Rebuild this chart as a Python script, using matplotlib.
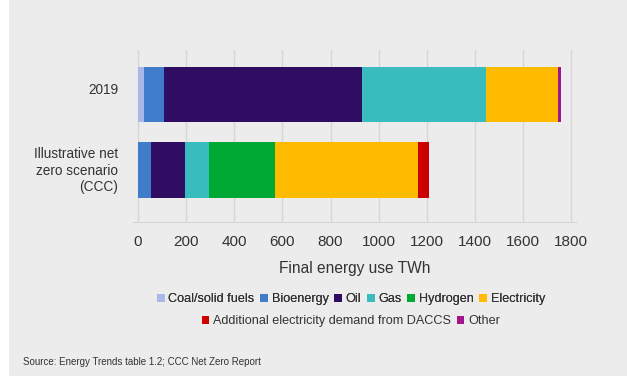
import numpy as np
import matplotlib
matplotlib.use('Agg')
import matplotlib.pyplot as plt
import matplotlib.transforms as mtransforms
from matplotlib.patches import Patch, Rectangle

plt.rcParams['font.family'] = ['Liberation Sans', 'DejaVu Sans']

scenarios = ['Illustrative net\nzero scenario\n(CCC)', '2019']
fuels = ['Coal/solid fuels', 'Bioenergy', 'Oil', 'Gas', 'Hydrogen', 'Electricity',
         'Additional electricity demand from DACCS', 'Other']
colors = ['#a9b8e6', '#3f7cc9', '#2e0d62', '#38bcbd', '#00a933', '#ffbb00', '#cc0000', '#a0148c']

# TWh per fuel, order: net zero, 2019
coal = [0, 24]
bioenergy = [53, 83]
oil = [141, 822]
gas = [100, 517]
hydrogen = [273, 0]
electricity = [596, 298]
daccs = [47, 0]
other = [0, 15]
values = [coal, bioenergy, oil, gas, hydrogen, electricity, daccs, other]

bg = '#ececec'
txt = '#333333'
grid = '#d6d6d6'

fig = plt.figure(figsize=(6.27, 3.76), dpi=100)
fig.patch.set_facecolor('white')
fig.patches.append(Rectangle((9 / 627, 0), 1, 1, transform=fig.transFigure,
                             facecolor=bg, edgecolor='none', zorder=-10))

ax = fig.add_axes([133.3 / 627, 1 - 222 / 376, (576 - 133.3) / 627, 172 / 376])
ax.set_facecolor(bg)

y = np.arange(len(scenarios))
left = np.zeros(len(scenarios))
for name, vals, c in zip(fuels, values, colors):
    vals = np.array(vals, dtype=float)
    ax.barh(y, vals, left=left, height=0.73, color=c, label=name, zorder=3)
    left += vals

ax.set_xlim(-20, 1820)
ax.set_ylim(-0.689, 1.589)
ax.set_xticks(np.arange(0, 1801, 200))
ax.set_yticks(y)
ax.set_yticklabels(scenarios, multialignment='right')
ax.tick_params(axis='both', length=0, labelsize=11, colors=txt)
ax.tick_params(axis='y', pad=11, labelsize=9.8)
ax.tick_params(axis='x', pad=9)
ax.grid(axis='x', color=grid, lw=1, zorder=0)
for s in ['top', 'right', 'left']:
    ax.spines[s].set_visible(False)
ax.spines['bottom'].set_color(grid)
ax.set_xlabel('Final energy use TWh', fontsize=11.2, color=txt, labelpad=9)

# nudge the labels like the original
labs = ax.get_yticklabels()
labs[1].set_transform(labs[1].get_transform() + mtransforms.ScaledTranslation(0, 6 / 100, fig.dpi_scale_trans))
labs[0].set_transform(labs[0].get_transform() + mtransforms.ScaledTranslation(0, 2 / 100, fig.dpi_scale_trans))

handles = [Patch(facecolor=c, edgecolor='none') for c in colors]
leg_kw = dict(frameon=False, fontsize=9.1, handlelength=0.6, handleheight=0.6,
              handletextpad=0.3, columnspacing=0.45, labelcolor=txt, borderpad=0)
leg1 = fig.legend(handles[:6], fuels[:6], ncol=6, loc='center',
                  bbox_to_anchor=(351 / 627, 1 - 299 / 376), **leg_kw)
fig.legend(handles[6:], fuels[6:], ncol=2, loc='center',
           bbox_to_anchor=(351 / 627, 1 - 321 / 376), **leg_kw)
fig.add_artist(leg1)

fig.text(23 / 627, 1 - 362 / 376, 'Source: Energy Trends table 1.2; CCC Net Zero Report',
         fontsize=7, color=txt, va='center', ha='left')

fig.savefig('out.png', dpi=100, facecolor=fig.get_facecolor())
